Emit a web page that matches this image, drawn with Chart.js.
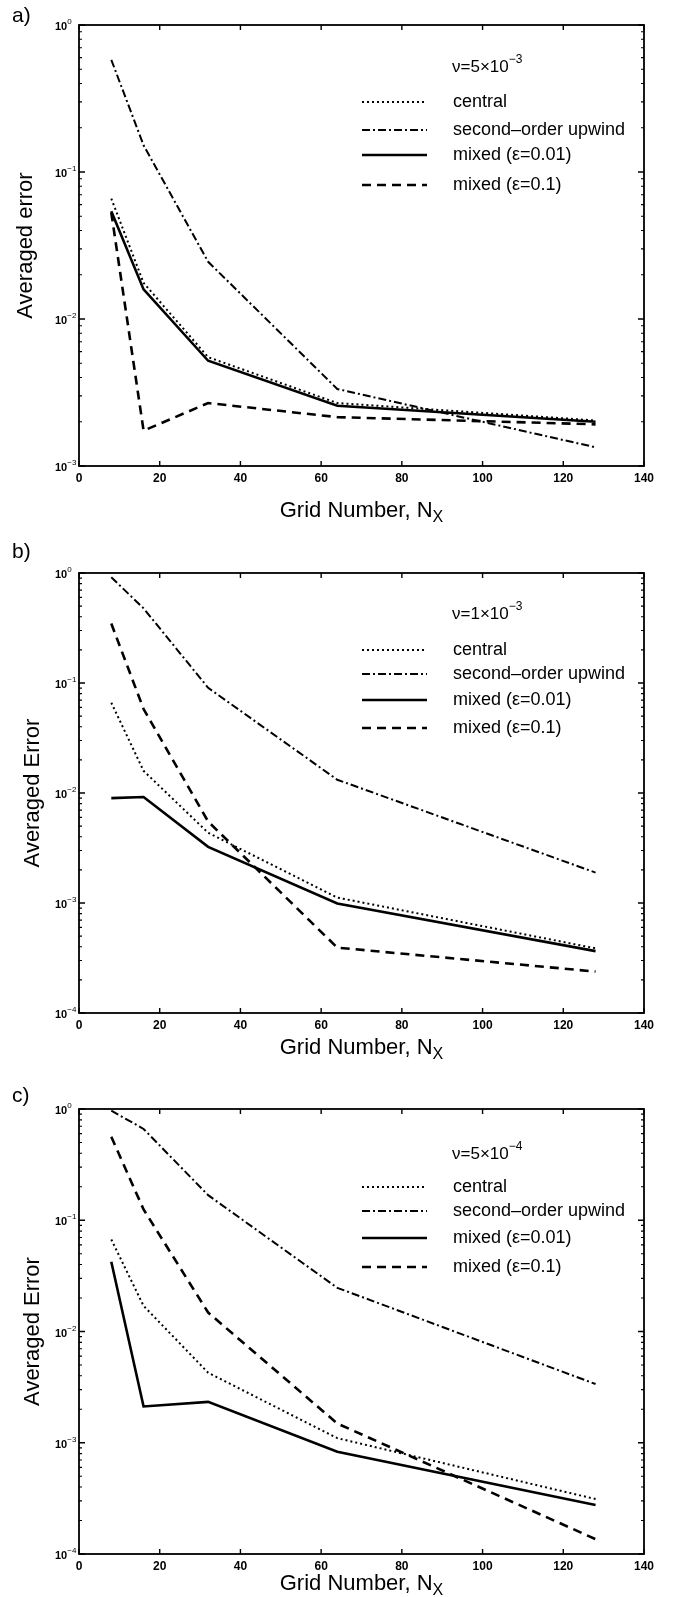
<!DOCTYPE html>
<html>
<head>
<meta charset="utf-8">
<script src="https://cdn.jsdelivr.net/npm/chart.js@4.4.1/dist/chart.umd.min.js"></script>
<style>
  body { margin: 0; background: #fff; }
  .panel { position: absolute; left: 0; }
  canvas { display: block; }
</style>
</head>
<body>
<div class="panel" style="top:0px"><canvas id="panelA" width="673" height="540"></canvas></div>
<div class="panel" style="top:540px"><canvas id="panelB" width="673" height="540"></canvas></div>
<div class="panel" style="top:1080px"><canvas id="panelC" width="673" height="517"></canvas></div>
<script>
// grid numbers Nx (x axis)
const gridNumbers = [8, 16, 32, 64, 128];
const xTicks = [0, 20, 40, 60, 80, 100, 120, 140];

// a) nu = 5e-3
const centralA  = [0.066, 0.0176, 0.0055, 0.00268, 0.00204];
const upwindA   = [0.58, 0.152, 0.0245, 0.00334, 0.00134];
const mixed001A = [0.054, 0.0159, 0.0052, 0.00257, 0.0020];
const mixed01A  = [0.053, 0.00174, 0.00268, 0.00215, 0.00192];

// b) nu = 1e-3
const centralB  = [0.0662, 0.0159, 0.00435, 0.00112, 0.000387];
const upwindB   = [0.915, 0.477, 0.0904, 0.0132, 0.00189];
const mixed001B = [0.00898, 0.0092, 0.00324, 0.00099, 0.000365];
const mixed01B  = [0.347, 0.058, 0.0055, 0.000393, 0.000238];

// c) nu = 5e-4
const centralC  = [0.0672, 0.017, 0.00426, 0.0011, 0.000312];
const upwindC   = [0.966, 0.662, 0.168, 0.0247, 0.00337];
const mixed001C = [0.0423, 0.00212, 0.00233, 0.00083, 0.000276];
const mixed01C  = [0.562, 0.125, 0.0148, 0.00149, 0.000136];

const seriesLabels = ['central', 'second\u2013order upwind', 'mixed (\u03b5=0.01)', 'mixed (\u03b5=0.1)'];

const FONT = '"Liberation Sans", Arial, Helvetica, sans-serif';

const panels = [
    { canvas: 'panelA', letter: 'a)', h: 540, plotTop: 25, plotBottom: 466, minExp: -3,
      yTitle: 'Averaged error', yTitleX: 26, xTitleDy: 43, letterY: 16,
      nu: ['\u03bd=5\u00d710', '\u22123'], legendDy: [42, 77, 105, 130, 160],
      data: [centralA, upwindA, mixed001A, mixed01A] },
    { canvas: 'panelB', letter: 'b)', h: 540, plotTop: 33, plotBottom: 473, minExp: -4,
      yTitle: 'Averaged Error', yTitleX: 33, xTitleDy: 33, letterY: 12,
      nu: ['\u03bd=1\u00d710', '\u22123'], legendDy: [41, 77, 101, 127, 155],
      data: [centralB, upwindB, mixed001B, mixed01B] },
    { canvas: 'panelC', letter: 'c)', h: 517, plotTop: 29, plotBottom: 474, minExp: -4,
      yTitle: 'Averaged Error', yTitleX: 33, xTitleDy: 28, letterY: 16,
      nu: ['\u03bd=5\u00d710', '\u22124'], legendDy: [45, 78, 102, 129, 158],
      data: [centralC, upwindC, mixed001C, mixed01C] }
];

// line styles: dotted, dash-dot, solid, dashed
const styles = [
    { borderDash: [2, 3], borderWidth: 2 },
    { borderDash: [8, 3, 2, 3], borderWidth: 2 },
    { borderDash: [], borderWidth: 2.6 },
    { borderDash: [9, 6], borderWidth: 2.6 }
];

function paperPlugin(p) {
    return {
        id: 'paper' + p.letter,
        afterDatasetsDraw(chart) {
            const ctx = chart.ctx;
            const { left, right, top, bottom } = chart.chartArea;
            const xs = chart.scales.x, ys = chart.scales.y;
            ctx.save();
            ctx.strokeStyle = '#000';
            ctx.fillStyle = '#000';
            ctx.setLineDash([]);

            // frame
            ctx.lineWidth = 1.8;
            ctx.strokeRect(left, top, right - left, bottom - top);

            // x ticks, inward on bottom and top
            ctx.lineWidth = 1.4;
            ctx.font = 'bold 12px ' + FONT;
            ctx.textAlign = 'center';
            ctx.textBaseline = 'middle';
            xTicks.forEach(v => {
                const px = xs.getPixelForValue(v);
                ctx.beginPath();
                ctx.moveTo(px, bottom); ctx.lineTo(px, bottom - 5);
                ctx.moveTo(px, top); ctx.lineTo(px, top + 5);
                ctx.stroke();
                ctx.fillText(String(v), px, bottom + 13);
            });

            // y ticks: decades + minor
            for (let e = p.minExp; e <= 0; e++) {
                const py = ys.getPixelForValue(Math.pow(10, e));
                ctx.lineWidth = 1.4;
                ctx.beginPath();
                ctx.moveTo(left, py); ctx.lineTo(left + 6, py);
                ctx.moveTo(right, py); ctx.lineTo(right - 6, py);
                ctx.stroke();
                ctx.textAlign = 'left';
                ctx.textBaseline = 'alphabetic';
                ctx.font = 'bold 11px ' + FONT;
                ctx.fillText('10', 55, py + 5);
                const w = ctx.measureText('10').width;
                ctx.font = '8px ' + FONT;
                ctx.fillText(e === 0 ? '0' : '\u2212' + (-e), 55 + w, py - 1);
                if (e < 0) {
                    for (let m = 2; m <= 9; m++) {
                        const pm = ys.getPixelForValue(m * Math.pow(10, e));
                        ctx.lineWidth = 1.2;
                        ctx.beginPath();
                        ctx.moveTo(left, pm); ctx.lineTo(left + 3, pm);
                        ctx.moveTo(right, pm); ctx.lineTo(right - 3, pm);
                        ctx.stroke();
                    }
                }
            }

            // y title
            ctx.save();
            ctx.translate(p.yTitleX, (top + bottom) / 2);
            ctx.rotate(-Math.PI / 2);
            ctx.font = '22px ' + FONT;
            ctx.textAlign = 'center';
            ctx.textBaseline = 'middle';
            ctx.fillText(p.yTitle, 0, 0);
            ctx.restore();

            // x title with subscript
            ctx.font = '22px ' + FONT;
            const main = 'Grid Number, N';
            const mw = ctx.measureText(main).width;
            ctx.font = '16px ' + FONT;
            const sw = ctx.measureText('X').width;
            const x0 = (left + right) / 2 - (mw + sw) / 2;
            const yb = bottom + p.xTitleDy + 8;
            ctx.textAlign = 'left';
            ctx.textBaseline = 'alphabetic';
            ctx.font = '22px ' + FONT;
            ctx.fillText(main, x0, yb);
            ctx.font = '16px ' + FONT;
            ctx.fillText('X', x0 + mw, yb + 5);

            // panel letter
            ctx.font = '21px ' + FONT;
            ctx.textBaseline = 'middle';
            ctx.fillText(p.letter, 12, p.letterY);

            // nu annotation
            const ly = p.legendDy.map(d => top + d);
            ctx.font = '17px ' + FONT;
            ctx.fillText(p.nu[0], 452, ly[0]);
            const nw = ctx.measureText(p.nu[0]).width;
            ctx.font = '12px ' + FONT;
            ctx.fillText(p.nu[1], 452 + nw, ly[0] - 7);

            // legend
            chart.data.datasets.forEach((ds, i) => {
                const y = ly[i + 1];
                ctx.lineWidth = ds.borderWidth;
                ctx.setLineDash(ds.borderDash);
                ctx.beginPath();
                ctx.moveTo(362, y); ctx.lineTo(427, y);
                ctx.stroke();
                ctx.setLineDash([]);
                ctx.font = '18px ' + FONT;
                ctx.fillText(ds.label, 453, y);
            });
            ctx.restore();
        }
    };
}

panels.forEach(p => {
    const datasets = p.data.map((vals, i) => ({
        label: seriesLabels[i],
        data: gridNumbers.map((nx, j) => ({ x: nx, y: vals[j] })),
        borderColor: '#000',
        backgroundColor: '#000',
        borderWidth: styles[i].borderWidth,
        borderDash: styles[i].borderDash,
        pointRadius: 0,
        tension: 0,
        fill: false
    }));
    new Chart(document.getElementById(p.canvas), {
        type: 'line',
        data: { datasets: datasets },
        options: {
            responsive: false,
            animation: false,
            layout: { padding: { left: 79, right: 29, top: p.plotTop, bottom: p.h - p.plotBottom } },
            plugins: { legend: { display: false }, tooltip: { enabled: false } },
            scales: {
                x: { type: 'linear', min: 0, max: 140, display: false },
                y: { type: 'logarithmic', min: Math.pow(10, p.minExp), max: 1, display: false }
            }
        },
        plugins: [paperPlugin(p)]
    });
});
</script>
</body>
</html>
